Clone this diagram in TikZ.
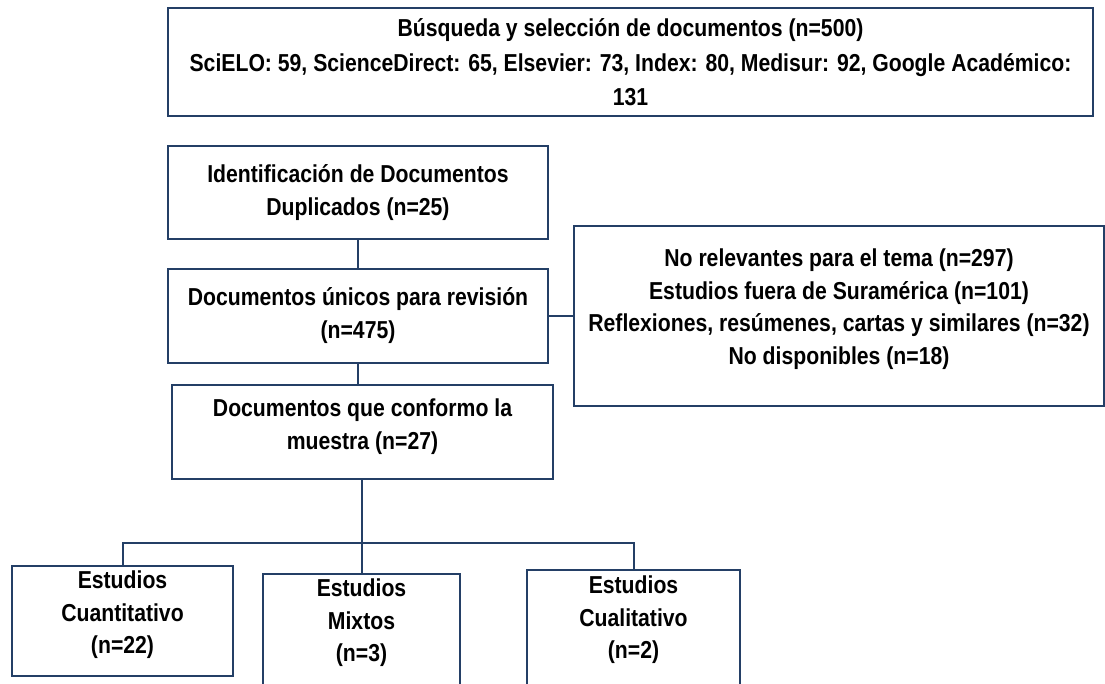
\documentclass[tikz,border=0pt]{standalone}
\usepackage{fontspec}
\setmainfont{Liberation Sans}[FakeStretch=0.865]
\definecolor{navy}{HTML}{243F66}
\begin{document}
\begin{tikzpicture}[x=1pt,y=-1pt,
  box/.style={draw=navy,line width=2.2pt,fill=white,inner sep=0pt},
  txt/.style={align=center,inner sep=0pt,text=black,
    font=\fontsize{24.5}{32.5}\selectfont\bfseries},
  conn/.style={draw=navy,line width=2pt}]
\useasboundingbox (0,0) rectangle (1105,684);
\clip (0,0) rectangle (1105,684);
% boxes
\node[box,minimum width=925pt,minimum height=108pt] (top) at (630.5,62) {};
\node[box,minimum width=380pt,minimum height=93pt] (ident) at (358,192.5) {};
\node[box,minimum width=380pt,minimum height=94pt] (unicos) at (358,316) {};
\node[box,minimum width=381pt,minimum height=94pt] (muestra) at (362.5,432) {};
\node[box,minimum width=530pt,minimum height=180pt] (excl) at (839,316) {};
\node[box,minimum width=221pt,minimum height=110pt] (cuanti) at (122.5,621) {};
\node[box,minimum width=197pt,minimum height=120pt] (mixtos) at (361.5,634) {};
\node[box,minimum width=213pt,minimum height=120pt] (cuali) at (633.5,630) {};
% texts
\node[txt,font=\fontsize{24.5}{34.5}\selectfont\bfseries] (topT) at (630.5,62.5)
  {Búsqueda y selección de documentos (n=500)\\SciELO: 59, ScienceDirect: 65, Elsevier: 73, Index: 80, Medisur: 92, Google Académico:\\131};
\node[txt] (identT) at (358,192.5) {Identificación de Documentos\\Duplicados (n=25)};
\node[txt] (unicosT) at (358,315.5) {Documentos únicos para revisión\\(n=475)};
\node[txt] (muestraT) at (362.5,426.5) {Documentos que conformo la\\muestra (n=27)};
\node[txt] (exclT) at (839,309) {No relevantes para el tema (n=297)\\Estudios fuera de Suramérica (n=101)\\Reflexiones, resúmenes, cartas y similares (n=32)\\No disponibles (n=18)};
\node[txt] (cuantiT) at (122.5,615) {Estudios\\Cuantitativo\\(n=22)};
\node[txt] (mixtosT) at (361.5,623) {Estudios\\Mixtos\\(n=3)};
\node[txt] (cualiT) at (633.5,620) {Estudios\\Cualitativo\\(n=2)};
% connectors
\coordinate (bar) at (361.5,543);
\draw[conn] (ident.south) -- (unicos.north);
\draw[conn] (unicos.south) -- (muestra.north -| unicos.south);
\draw[conn] (unicos.east) -- (excl.west);
\draw[conn] (muestra.south -| mixtos.north) -- (mixtos.north);
\draw[conn] (cuanti.north) |- (bar) -| (cuali.north);
\end{tikzpicture}
\end{document}
